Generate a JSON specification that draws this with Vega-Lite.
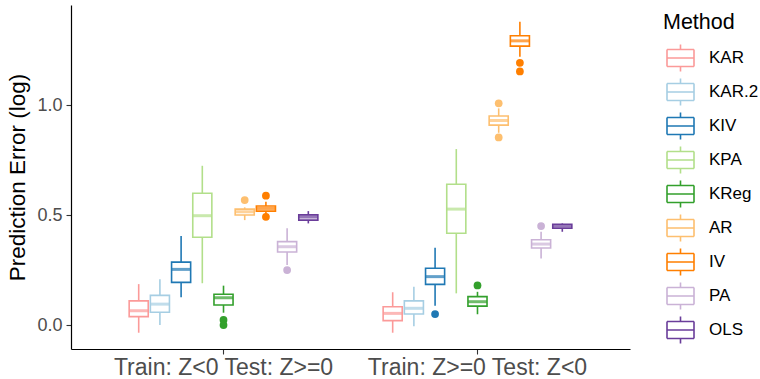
{
  "$schema": "https://vega.github.io/schema/vega-lite/v6.json",
  "width": 559,
  "height": 344,
  "autosize": "none",
  "padding": {"left": 71, "top": 5, "right": 130, "bottom": 30},
  "background": "white",
  "config": {
    "view": {"stroke": null},
    "font": "Liberation Sans",
    "axis": {
      "grid": false,
      "domainColor": "black",
      "domainWidth": 1.2,
      "tickColor": "#333333",
      "tickSize": 5,
      "tickWidth": 1.1,
      "labelColor": "#4D4D4D",
      "titleColor": "black",
      "titleFontWeight": "normal",
      "labelFont": "Liberation Sans",
      "titleFont": "Liberation Sans"
    },
    "legend": {"labelFont": "Liberation Sans", "titleFont": "Liberation Sans"}
  },
  "datasets": {
    "stats": [
      {"group": "Train: Z<0 Test: Z>=0", "method": "KAR", "lower": -0.035, "q1": 0.038, "median": 0.065, "q3": 0.110, "upper": 0.186},
      {"group": "Train: Z<0 Test: Z>=0", "method": "KAR.2", "lower": 0.0, "q1": 0.058, "median": 0.095, "q3": 0.135, "upper": 0.208},
      {"group": "Train: Z<0 Test: Z>=0", "method": "KIV", "lower": 0.126, "q1": 0.194, "median": 0.253, "q3": 0.286, "upper": 0.405},
      {"group": "Train: Z<0 Test: Z>=0", "method": "KPA", "lower": 0.190, "q1": 0.399, "median": 0.497, "q3": 0.599, "upper": 0.724},
      {"group": "Train: Z<0 Test: Z>=0", "method": "KReg", "lower": 0.056, "q1": 0.091, "median": 0.124, "q3": 0.140, "upper": 0.179},
      {"group": "Train: Z<0 Test: Z>=0", "method": "AR", "lower": 0.477, "q1": 0.500, "median": 0.515, "q3": 0.527, "upper": 0.535},
      {"group": "Train: Z<0 Test: Z>=0", "method": "IV", "lower": 0.505, "q1": 0.518, "median": 0.530, "q3": 0.541, "upper": 0.560},
      {"group": "Train: Z<0 Test: Z>=0", "method": "PA", "lower": 0.273, "q1": 0.332, "median": 0.356, "q3": 0.379, "upper": 0.440},
      {"group": "Train: Z<0 Test: Z>=0", "method": "OLS", "lower": 0.462, "q1": 0.477, "median": 0.491, "q3": 0.501, "upper": 0.518},
      {"group": "Train: Z>=0 Test: Z<0", "method": "KAR", "lower": -0.035, "q1": 0.020, "median": 0.053, "q3": 0.083, "upper": 0.149},
      {"group": "Train: Z>=0 Test: Z<0", "method": "KAR.2", "lower": -0.005, "q1": 0.050, "median": 0.076, "q3": 0.110, "upper": 0.174},
      {"group": "Train: Z>=0 Test: Z<0", "method": "KIV", "lower": 0.088, "q1": 0.185, "median": 0.220, "q3": 0.258, "upper": 0.351},
      {"group": "Train: Z>=0 Test: Z<0", "method": "KPA", "lower": 0.144, "q1": 0.417, "median": 0.527, "q3": 0.640, "upper": 0.800},
      {"group": "Train: Z>=0 Test: Z<0", "method": "KReg", "lower": 0.049, "q1": 0.086, "median": 0.106, "q3": 0.129, "upper": 0.151},
      {"group": "Train: Z>=0 Test: Z<0", "method": "AR", "lower": 0.874, "q1": 0.909, "median": 0.930, "q3": 0.950, "upper": 0.985},
      {"group": "Train: Z>=0 Test: Z<0", "method": "IV", "lower": 1.220, "q1": 1.268, "median": 1.292, "q3": 1.315, "upper": 1.379},
      {"group": "Train: Z>=0 Test: Z<0", "method": "PA", "lower": 0.303, "q1": 0.350, "median": 0.368, "q3": 0.388, "upper": 0.424},
      {"group": "Train: Z>=0 Test: Z<0", "method": "OLS", "lower": 0.424, "q1": 0.440, "median": 0.449, "q3": 0.458, "upper": 0.462}
    ],
    "outliers": [
      {"group": "Train: Z<0 Test: Z>=0", "method": "KReg", "value": 0.023},
      {"group": "Train: Z<0 Test: Z>=0", "method": "KReg", "value": 0.0},
      {"group": "Train: Z<0 Test: Z>=0", "method": "AR", "value": 0.568},
      {"group": "Train: Z<0 Test: Z>=0", "method": "IV", "value": 0.588},
      {"group": "Train: Z<0 Test: Z>=0", "method": "IV", "value": 0.492},
      {"group": "Train: Z<0 Test: Z>=0", "method": "PA", "value": 0.250},
      {"group": "Train: Z>=0 Test: Z<0", "method": "KIV", "value": 0.050},
      {"group": "Train: Z>=0 Test: Z<0", "method": "KReg", "value": 0.180},
      {"group": "Train: Z>=0 Test: Z<0", "method": "AR", "value": 1.008},
      {"group": "Train: Z>=0 Test: Z<0", "method": "AR", "value": 0.853},
      {"group": "Train: Z>=0 Test: Z<0", "method": "IV", "value": 1.192},
      {"group": "Train: Z>=0 Test: Z<0", "method": "IV", "value": 1.153},
      {"group": "Train: Z>=0 Test: Z<0", "method": "PA", "value": 0.450}
    ]
  },
  "encoding": {
    "x": {
      "field": "group",
      "type": "nominal",
      "sort": ["Train: Z<0 Test: Z>=0", "Train: Z>=0 Test: Z<0"],
      "scale": {"domain": ["Train: Z<0 Test: Z>=0", "Train: Z>=0 Test: Z<0"], "paddingInner": 0.257, "paddingOuter": 0.229},
      "axis": {"title": null, "labelAngle": 0, "labelFontSize": 23, "labelPadding": 2, "labelLimit": 0, "domainWidth": 1.2}
    },
    "xOffset": {
      "field": "method",
      "type": "nominal",
      "scale": {"domain": ["KAR", "KAR.2", "KIV", "KPA", "KReg", "AR", "IV", "PA", "OLS"], "paddingInner": 0.1, "paddingOuter": 0}
    }
  },
  "layer": [
    {
      "data": {"name": "stats"},
      "mark": {"type": "rule", "strokeWidth": 1.6},
      "encoding": {
        "y": {
          "field": "lower",
          "type": "quantitative",
          "scale": {"domain": [-0.109, 1.455], "nice": false, "zero": false},
          "axis": {"title": "Prediction Error (log)", "values": [0, 0.5, 1.0], "format": ".1f", "labelFontSize": 18, "titleFontSize": 22.5, "labelPadding": 4, "titlePadding": 7}
        },
        "y2": {"field": "upper"},
        "stroke": {
          "field": "method",
          "type": "nominal",
          "title": "Method",
          "scale": {
            "domain": ["KAR", "KAR.2", "KIV", "KPA", "KReg", "AR", "IV", "PA", "OLS"],
            "range": ["#FB9A99", "#A6CEE3", "#1F78B4", "#B2DF8A", "#33A02C", "#FDBF6F", "#FF7F00", "#CAB2D6", "#6A3D9A"]
          },
          "legend": {
            "orient": "none",
            "legendX": 592,
            "legendY": 7,
            "titleFontSize": 21.5,
            "titleFontWeight": "normal",
            "titleColor": "black",
            "titlePadding": 10,
            "labelFontSize": 17,
            "labelColor": "black",
            "labelOffset": 14,
            "labelLimit": 0,
            "symbolType": "M-1,-0.63L1,-0.63 M1,-0.63L1,0.63 M1,0.63L-1,0.63 M-1,0.63L-1,-0.63 M-1,0L1,0 M0,-0.63L0,-1 M0,0.63L0,1",
            "symbolSize": 729,
            "symbolStrokeWidth": 1.6,
            "symbolFillColor": "white",
            "symbolOffset": 3,
            "rowPadding": -1,
            "encode": {
              "symbols": {
                "update": {
                  "fill": {"value": "white"},
                  "strokeWidth": {"value": 1.6}
                }
              }
            }
          }
        }
      }
    },
    {
      "data": {"name": "stats"},
      "mark": {"type": "bar", "fill": "white", "strokeWidth": 1.6},
      "encoding": {
        "y": {"field": "q1", "type": "quantitative"},
        "y2": {"field": "q3"},
        "stroke": {"field": "method", "type": "nominal"}
      }
    },
    {
      "data": {"name": "stats"},
      "mark": {"type": "tick", "thickness": 3, "size": 19},
      "encoding": {
        "y": {"field": "median", "type": "quantitative"},
        "fill": {
          "field": "method",
          "type": "nominal",
          "legend": null,
          "scale": {
            "domain": ["KAR", "KAR.2", "KIV", "KPA", "KReg", "AR", "IV", "PA", "OLS"],
            "range": ["#FB9A99", "#A6CEE3", "#1F78B4", "#B2DF8A", "#33A02C", "#FDBF6F", "#FF7F00", "#CAB2D6", "#6A3D9A"]
          }
        }
      }
    },
    {
      "data": {"name": "outliers"},
      "mark": {"type": "circle", "size": 60, "opacity": 1},
      "encoding": {
        "y": {"field": "value", "type": "quantitative"},
        "fill": {"field": "method", "type": "nominal", "legend": null}
      }
    }
  ]
}
